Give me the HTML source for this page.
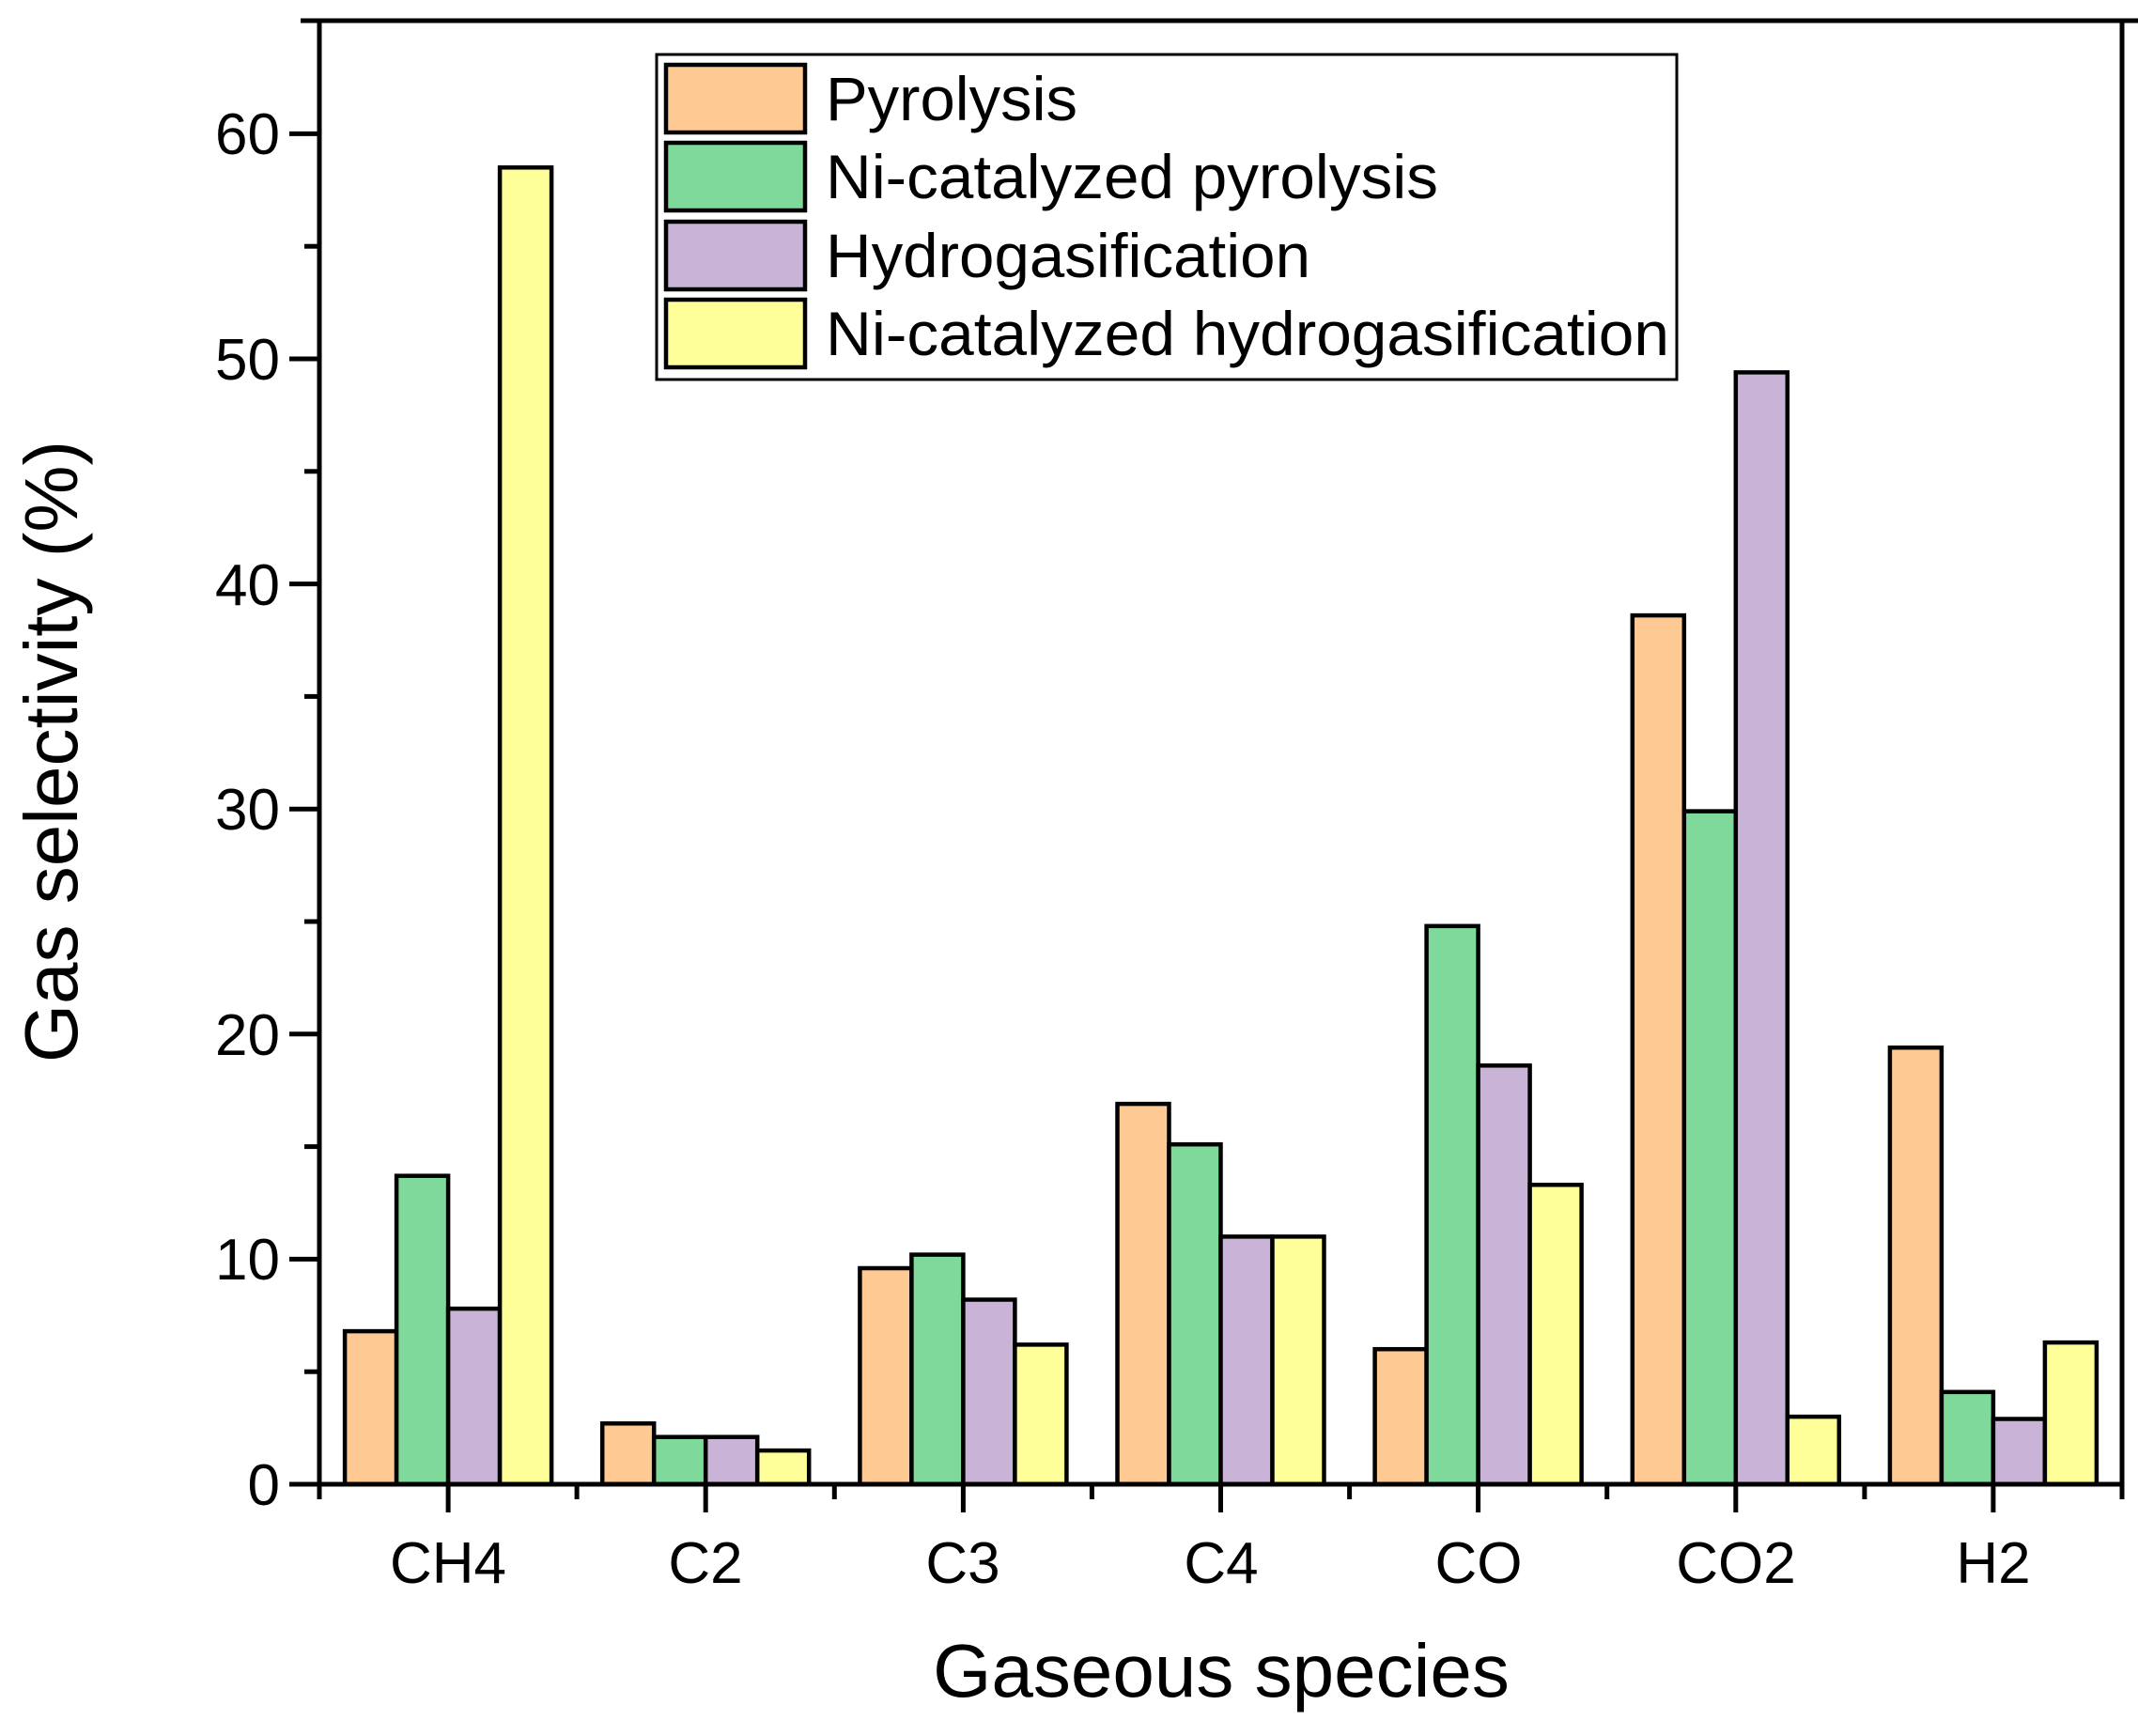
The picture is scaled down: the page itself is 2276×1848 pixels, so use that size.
<!DOCTYPE html>
<html><head><meta charset="utf-8"><style>html,body{margin:0;padding:0;background:#fff}</style></head>
<body>
<svg width="2276" height="1843" viewBox="0 0 2276 1843" xmlns="http://www.w3.org/2000/svg" font-family="Liberation Sans, Arial, sans-serif">
<g stroke="#000" stroke-width="4.5">
<rect x="367.1" y="1417.1" width="55" height="162.9" fill="#FFC993"/>
<rect x="422.1" y="1251.7" width="55" height="328.3" fill="#7FD99A"/>
<rect x="477.1" y="1393.1" width="55" height="186.9" fill="#C9B3D6"/>
<rect x="532.1" y="178.3" width="55" height="1401.7" fill="#FFFF99"/>
<rect x="641.2" y="1515.3" width="55" height="64.7" fill="#FFC993"/>
<rect x="696.2" y="1529.7" width="55" height="50.3" fill="#7FD99A"/>
<rect x="751.2" y="1529.7" width="55" height="50.3" fill="#C9B3D6"/>
<rect x="806.2" y="1544.1" width="55" height="35.9" fill="#FFFF99"/>
<rect x="915.4" y="1350" width="55" height="230" fill="#FFC993"/>
<rect x="970.4" y="1335.6" width="55" height="244.4" fill="#7FD99A"/>
<rect x="1025.4" y="1383.5" width="55" height="196.5" fill="#C9B3D6"/>
<rect x="1080.4" y="1431.4" width="55" height="148.6" fill="#FFFF99"/>
<rect x="1189.5" y="1175.1" width="55" height="404.9" fill="#FFC993"/>
<rect x="1244.5" y="1218.2" width="55" height="361.8" fill="#7FD99A"/>
<rect x="1299.5" y="1316.4" width="55" height="263.6" fill="#C9B3D6"/>
<rect x="1354.5" y="1316.4" width="55" height="263.6" fill="#FFFF99"/>
<rect x="1463.6" y="1436.2" width="55" height="143.8" fill="#FFC993"/>
<rect x="1518.6" y="985.8" width="55" height="594.2" fill="#7FD99A"/>
<rect x="1573.6" y="1134.3" width="55" height="445.7" fill="#C9B3D6"/>
<rect x="1628.6" y="1261.3" width="55" height="318.7" fill="#FFFF99"/>
<rect x="1737.8" y="655.1" width="55" height="924.9" fill="#FFC993"/>
<rect x="1792.8" y="863.6" width="55" height="716.4" fill="#7FD99A"/>
<rect x="1847.8" y="396.4" width="55" height="1183.6" fill="#C9B3D6"/>
<rect x="1902.8" y="1508.1" width="55" height="71.9" fill="#FFFF99"/>
<rect x="2011.9" y="1115.2" width="55" height="464.8" fill="#FFC993"/>
<rect x="2066.9" y="1481.8" width="55" height="98.2" fill="#7FD99A"/>
<rect x="2121.9" y="1510.5" width="55" height="69.5" fill="#C9B3D6"/>
<rect x="2176.9" y="1429.1" width="55" height="150.9" fill="#FFFF99"/>
</g>
<g stroke="#000" stroke-width="5">
<line x1="308" y1="1580" x2="340" y2="1580"/>
<line x1="324" y1="1460.2" x2="340" y2="1460.2"/>
<line x1="308" y1="1340.4" x2="340" y2="1340.4"/>
<line x1="324" y1="1220.6" x2="340" y2="1220.6"/>
<line x1="308" y1="1100.8" x2="340" y2="1100.8"/>
<line x1="324" y1="981" x2="340" y2="981"/>
<line x1="308" y1="861.2" x2="340" y2="861.2"/>
<line x1="324" y1="741.4" x2="340" y2="741.4"/>
<line x1="308" y1="621.6" x2="340" y2="621.6"/>
<line x1="324" y1="501.8" x2="340" y2="501.8"/>
<line x1="308" y1="382" x2="340" y2="382"/>
<line x1="324" y1="262.2" x2="340" y2="262.2"/>
<line x1="308" y1="142.4" x2="340" y2="142.4"/>
<line x1="340" y1="1580" x2="340" y2="1596"/>
<line x1="614.1" y1="1580" x2="614.1" y2="1596"/>
<line x1="888.3" y1="1580" x2="888.3" y2="1596"/>
<line x1="1162.4" y1="1580" x2="1162.4" y2="1596"/>
<line x1="1436.6" y1="1580" x2="1436.6" y2="1596"/>
<line x1="1710.7" y1="1580" x2="1710.7" y2="1596"/>
<line x1="1984.9" y1="1580" x2="1984.9" y2="1596"/>
<line x1="2259" y1="1580" x2="2259" y2="1596"/>
<line x1="477.1" y1="1580" x2="477.1" y2="1610"/>
<line x1="751.2" y1="1580" x2="751.2" y2="1610"/>
<line x1="1025.4" y1="1580" x2="1025.4" y2="1610"/>
<line x1="1299.5" y1="1580" x2="1299.5" y2="1610"/>
<line x1="1573.6" y1="1580" x2="1573.6" y2="1610"/>
<line x1="1847.8" y1="1580" x2="1847.8" y2="1610"/>
<line x1="2121.9" y1="1580" x2="2121.9" y2="1610"/>
</g>
<polyline points="340,22 340,1580 2259,1580 2259,22" fill="none" stroke="#000" stroke-width="5"/>
<line x1="320" y1="22" x2="2276" y2="22" stroke="#000" stroke-width="5"/>
<g font-size="62" text-anchor="end" fill="#000">
<text x="298" y="1602">0</text><text x="298" y="1362">10</text><text x="298" y="1123">20</text><text x="298" y="883">30</text><text x="298" y="644">40</text><text x="298" y="404">50</text><text x="298" y="164">60</text>
</g>
<g font-size="62" text-anchor="middle" fill="#000">
<text x="477" y="1685">CH4</text><text x="751" y="1685">C2</text><text x="1025" y="1685">C3</text><text x="1300" y="1685">C4</text><text x="1574" y="1685">CO</text><text x="1848" y="1685">CO2</text><text x="2122" y="1685">H2</text>
</g>
<text x="1300" y="1806" font-size="80" text-anchor="middle">Gaseous species</text>
<text transform="translate(82,800) rotate(-90)" font-size="80" text-anchor="middle">Gas selectivity (%)</text>
<rect x="699" y="58" width="1086" height="346" fill="#fff" stroke="#000" stroke-width="3"/>
<g stroke="#000" stroke-width="4.5">
<rect x="709" y="69" width="148" height="72" fill="#FFC993"/>
<rect x="709" y="152" width="148" height="72" fill="#7FD99A"/>
<rect x="709" y="236" width="148" height="72" fill="#C9B3D6"/>
<rect x="709" y="319" width="148" height="72" fill="#FFFF99"/>
</g>
<g font-size="66" fill="#000">
<text x="879" y="128" textLength="268" lengthAdjust="spacingAndGlyphs">Pyrolysis</text>
<text x="879" y="211" textLength="652" lengthAdjust="spacingAndGlyphs">Ni-catalyzed pyrolysis</text>
<text x="879" y="295" textLength="516" lengthAdjust="spacingAndGlyphs">Hydrogasification</text>
<text x="879" y="378" textLength="898" lengthAdjust="spacingAndGlyphs">Ni-catalyzed hydrogasification</text>
</g>
</svg>
</body></html>
